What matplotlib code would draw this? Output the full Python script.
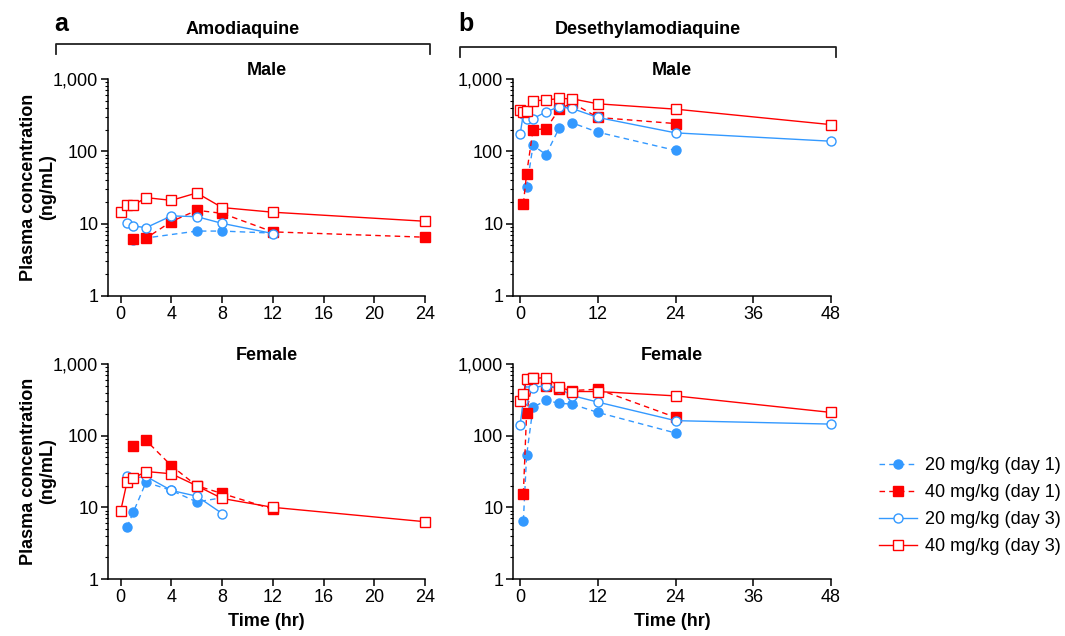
import matplotlib
matplotlib.use("Agg")
import matplotlib.pyplot as plt
from matplotlib.lines import Line2D
from matplotlib.ticker import LogLocator, FixedLocator, NullFormatter, FuncFormatter

plt.rcParams['font.family'] = ['Liberation Sans', 'DejaVu Sans']

BLUE = '#3399ff'
RED = '#ff0000'
FS = 13

# Amodiaquine, male
aq_m_20d1_t = [1, 6, 8, 12]
aq_m_20d1_c = [6.0, 7.9, 7.9, 7.4]
aq_m_40d1_t = [1, 2, 4, 6, 8, 12, 24]
aq_m_40d1_c = [6.1, 6.3, 10.7, 15.3, 13.9, 7.7, 6.5]
aq_m_20d3_t = [0.5, 1, 2, 4, 6, 8, 12]
aq_m_20d3_c = [10.3, 9.3, 8.8, 12.8, 12.5, 10.1, 7.3]
aq_m_40d3_t = [0, 0.5, 1, 2, 4, 6, 8, 12, 24]
aq_m_40d3_c = [14.5, 18, 18, 22.9, 21, 26.6, 16.7, 14.4, 10.8]

# Amodiaquine, female
aq_f_20d1_t = [0.5, 1, 2, 4, 6, 8]
aq_f_20d1_c = [5.3, 8.6, 22.4, 17.2, 11.9, 13.6]
aq_f_40d1_t = [1, 2, 4, 6, 8, 12]
aq_f_40d1_c = [72.6, 86, 38, 20, 15.6, 9.4]
aq_f_20d3_t = [0.5, 1, 2, 4, 6, 8]
aq_f_20d3_c = [27, 25.6, 27, 17.2, 14.3, 8.2]
aq_f_40d3_t = [0, 0.5, 1, 2, 4, 6, 8, 12, 24]
aq_f_40d3_c = [8.9, 22.5, 25.5, 31.6, 29.4, 20, 13.3, 10, 6.3]

# Desethylamodiaquine, male
dq_m_20d1_t = [1, 2, 4, 6, 8, 12, 24]
dq_m_20d1_c = [32, 121, 90, 207, 248, 184, 103]
dq_m_40d1_t = [0.5, 1, 2, 4, 6, 8, 12, 24]
dq_m_40d1_c = [18.8, 49, 200, 204, 379, 469, 294, 242]
dq_m_20d3_t = [0, 0.5, 1, 2, 4, 6, 8, 12, 24, 48]
dq_m_20d3_c = [172, 333, 284, 284, 351, 413, 392, 294, 180, 138]
dq_m_40d3_t = [0, 0.5, 1, 2, 4, 6, 8, 12, 24, 48]
dq_m_40d3_c = [371, 350, 365, 500, 511, 538, 533, 454, 383, 234]

# Desethylamodiaquine, female
dq_f_20d1_t = [0.5, 1, 2, 4, 6, 8, 12, 24]
dq_f_20d1_c = [6.5, 53, 250, 310, 284, 275, 211, 109]
dq_f_40d1_t = [0.5, 1, 2, 4, 6, 8, 12, 24]
dq_f_40d1_c = [15.5, 207, 646, 501, 450, 426, 445, 180]
dq_f_20d3_t = [0, 0.5, 1, 2, 4, 6, 8, 12, 24, 48]
dq_f_20d3_c = [142, 306, 556, 469, 501, 459, 363, 294, 162, 145]
dq_f_40d3_t = [0, 0.5, 1, 2, 4, 6, 8, 12, 24, 48]
dq_f_40d3_c = [300, 379, 620, 630, 646, 484, 413, 413, 359, 211]

legend_labels = ['20 mg/kg (day 1)', '40 mg/kg (day 1)',
                 '20 mg/kg (day 3)', '40 mg/kg (day 3)']

styles = [
    dict(color=BLUE, ls=(0, (4, 3)), marker='o', mfc=BLUE, mec=BLUE),
    dict(color=RED, ls=(0, (4, 3)), marker='s', mfc=RED, mec=RED),
    dict(color=BLUE, ls='-', marker='o', mfc='white', mec=BLUE),
    dict(color=RED, ls='-', marker='s', mfc='white', mec=RED),
]

panels = [
    ('Male', [(aq_m_20d1_t, aq_m_20d1_c), (aq_m_40d1_t, aq_m_40d1_c),
              (aq_m_20d3_t, aq_m_20d3_c), (aq_m_40d3_t, aq_m_40d3_c)]),
    ('Male', [(dq_m_20d1_t, dq_m_20d1_c), (dq_m_40d1_t, dq_m_40d1_c),
              (dq_m_20d3_t, dq_m_20d3_c), (dq_m_40d3_t, dq_m_40d3_c)]),
    ('Female', [(aq_f_20d1_t, aq_f_20d1_c), (aq_f_40d1_t, aq_f_40d1_c),
                (aq_f_20d3_t, aq_f_20d3_c), (aq_f_40d3_t, aq_f_40d3_c)]),
    ('Female', [(dq_f_20d1_t, dq_f_20d1_c), (dq_f_40d1_t, dq_f_40d1_c),
                (dq_f_20d3_t, dq_f_20d3_c), (dq_f_40d3_t, dq_f_40d3_c)]),
]

W, H = 1065, 636
fig = plt.figure(figsize=(W / 100, H / 100), dpi=100)


def px_rect(x0, y0, x1, y1):
    return [x0 / W, 1 - y1 / H, (x1 - x0) / W, (y1 - y0) / H]


rects = [px_rect(108, 79, 425, 296), px_rect(513, 79, 831, 296),
         px_rect(108, 364, 425, 579), px_rect(513, 364, 831, 579)]

for i, ((title, series), rect) in enumerate(zip(panels, rects)):
    ax = fig.add_axes(rect)
    for (t, c), st in zip(series, styles):
        ax.plot(t, c, lw=1.0, ms=6.5, mew=1.0, clip_on=False, **st)
    ax.set_yscale('log')
    ax.set_ylim(1, 1000)
    ax.yaxis.set_major_locator(FixedLocator([1, 10, 100, 1000]))
    ax.yaxis.set_minor_locator(LogLocator(base=10, subs=range(2, 10)))
    ax.yaxis.set_minor_formatter(NullFormatter())
    ax.yaxis.set_major_formatter(FuncFormatter(lambda v, p: f'{int(v):,}'))
    if i % 2 == 0:
        ax.set_xlim(-1.0, 24)
        ax.set_xticks([0, 4, 8, 12, 16, 20, 24])
        ax.set_ylabel('Plasma concentration\n(ng/mL)', fontsize=FS,
                      fontweight='bold', linespacing=1.15)
        ax.yaxis.set_label_coords(-0.163, 0.5)
    else:
        ax.set_xlim(-1.1, 48)
        ax.set_xticks([0, 12, 24, 36, 48])
    if i >= 2:
        ax.set_xlabel('Time (hr)', fontsize=FS, fontweight='bold', labelpad=5)
    ax.set_title(title, fontsize=FS, fontweight='bold', pad=0)
    for s in ['top', 'right']:
        ax.spines[s].set_visible(False)
    for s in ['left', 'bottom']:
        ax.spines[s].set_linewidth(1.1)
    ax.tick_params(which='major', length=5, width=1.1, labelsize=FS, pad=2)
    ax.tick_params(which='minor', length=2.5, width=0.8)

# compound brackets and panel letters
for x0, x1, y, name, letter in [(56, 430, 44, 'Amodiaquine', 'a'),
                                (460, 836, 47, 'Desethylamodiaquine', 'b')]:
    fig.add_artist(Line2D([x0 / W, x0 / W, x1 / W, x1 / W],
                          [1 - (y + 10) / H, 1 - y / H, 1 - y / H, 1 - (y + 10) / H],
                          color='#222222', lw=1.3))
    fig.text((x0 + x1) / 2 / W, 1 - 29 / H, name, ha='center', va='center',
             fontsize=FS, fontweight='bold')
    fig.text((x0 - 2) / W, 1 - 24 / H, letter, ha='left', va='center',
             fontsize=18, fontweight='bold')

handles = [Line2D([], [], lw=1.0, ms=6.5, mew=1.0, **st) for st in styles]
fig.legend(handles, legend_labels, loc='center left',
           bbox_to_anchor=(879 / W, 1 - 506 / H), frameon=False,
           fontsize=FS, handlelength=2.1, handletextpad=0.45,
           labelspacing=0.55, borderaxespad=0, borderpad=0)

fig.savefig('out.png', dpi=100)
